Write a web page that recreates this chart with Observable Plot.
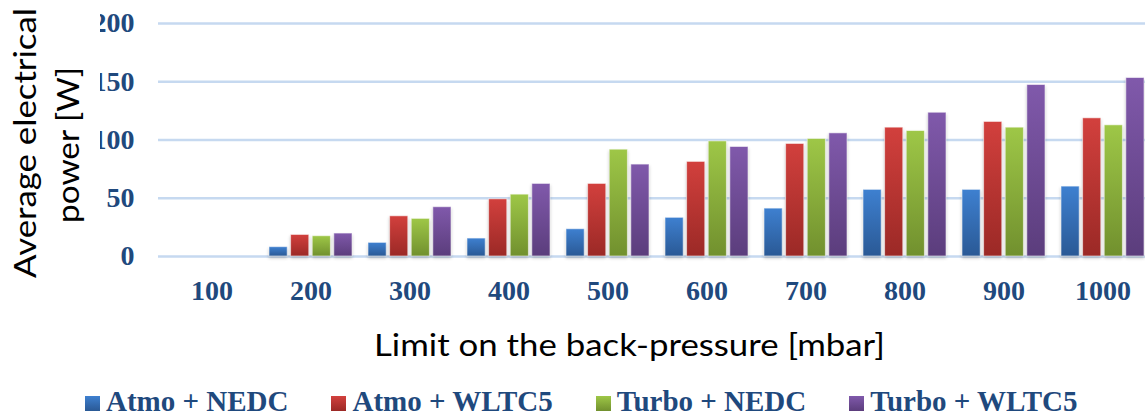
<!DOCTYPE html>
<html>
<head>
<meta charset="utf-8">
<script src="https://cdn.jsdelivr.net/npm/d3@7"></script>
<script src="https://cdn.jsdelivr.net/npm/@observablehq/plot@0.6"></script>
<style>
  html, body { margin: 0; padding: 0; background: #fff; overflow: hidden; }
  #wrap { position: relative; width: 1145px; height: 417px; overflow: hidden; background: #fff; }
  #chart { position: absolute; left: 0; top: 0; width: 1157px; }
  #chart svg { max-width: none !important; }
  #ytitle { position: absolute; left: 0; top: 0; }
  #xtitle { position: absolute; left: 0; top: 320px; }
  #legend { position: absolute; left: 85px; top: 387px; display: flex; gap: 43px;
    font-family: "Liberation Serif", "Times New Roman", serif; font-weight: bold;
    font-size: 29px; line-height: 29px; color: #1F497D; white-space: nowrap; }
  .item { display: flex; align-items: baseline; }
  .sw { display: inline-block; width: 15px; height: 15px; margin-right: 6px; }
</style>
</head>
<body>
<div id="wrap">
  <div id="chart"></div>
  <svg id="ytitle" width="100" height="290">
    <rect x="0" y="0" width="100" height="290" fill="#fff"></rect>
    <text transform="translate(36,143) rotate(-90)" text-anchor="middle" font-family="Lato, 'Open Sans', sans-serif" font-size="31" fill="#000" textLength="270" lengthAdjust="spacingAndGlyphs">Average electrical</text>
    <text transform="translate(79,145) rotate(-90)" text-anchor="middle" font-family="Lato, 'Open Sans', sans-serif" font-size="31" fill="#000" textLength="156" lengthAdjust="spacingAndGlyphs">power [W]</text>
  </svg>
  <svg id="xtitle" width="1145" height="60">
    <text x="629.5" y="36" text-anchor="middle" font-family="Lato, 'Open Sans', sans-serif" font-size="31" fill="#000" textLength="511" lengthAdjust="spacingAndGlyphs">Limit on the back-pressure [mbar]</text>
  </svg>
  <div id="legend"></div>
</div>
<script>
// ---- data ----
const categories = ["100", "200", "300", "400", "500", "600", "700", "800", "900", "1000"];
const series = ["Atmo + NEDC", "Atmo + WLTC5", "Turbo + NEDC", "Turbo + WLTC5"];
const atmoNedc   = [0, 8.0, 11.7, 15.4, 23.4, 33.2, 41.1, 57.2, 57.2, 60.0];
const atmoWltc5  = [0, 18.5, 34.5, 49.1, 62.3, 81.2, 96.6, 110.6, 115.5, 118.6];
const turboNedc  = [0, 17.4, 32.3, 53.1, 91.7, 98.8, 100.9, 107.7, 110.6, 112.6];
const turboWltc5 = [0, 19.7, 42.3, 62.3, 78.9, 94.0, 105.7, 123.4, 147.2, 153.2];
const yTicks = [0, 50, 100, 150, 200];

// ---- styles ----
const topColors = ["#3E80D0", "#D2403D", "#9EC747", "#8059AB"];
const bottomColors = ["#2A5995", "#9B2926", "#71902E", "#5B3D7C"];

const values = [atmoNedc, atmoWltc5, turboNedc, turboWltc5];
const rows = series.flatMap((s, i) => categories.map((c, j) => ({category: c, series: s, value: values[i][j]})));

const W = 1157, H = 310, mL = 158, mR = 1;
const padIn = 0.16, padOut = 0.08;
const step = (W - mR - mL) / (categories.length - padIn + 2 * padOut);
const bw = step * (1 - padIn);
const sub = d3.scaleBand().domain(series).range([0, bw]).paddingInner(0.12);

const svg = Plot.plot({
  width: W, height: H,
  marginTop: 23, marginBottom: 54, marginLeft: mL, marginRight: mR,
  style: {fontFamily: "'Liberation Serif', 'Times New Roman', serif", fontSize: "28px", fontWeight: "bold", color: "#1F497D", background: "transparent", maxWidth: "none"},
  x: {domain: categories, paddingInner: padIn, paddingOuter: padOut, tickSize: 0, tickPadding: 24, label: null},
  y: {domain: [0, 200], ticks: yTicks, tickSize: 0, tickPadding: 24, label: null},
  marks: [
    Plot.ruleY(yTicks, {stroke: "#C6D9F0", strokeWidth: 2.5}),
    ...series.map((s, i) => Plot.barY(rows.filter(d => d.series === s && d.value > 0), {
      x: "category", y: "value", fill: topColors[i],
      insetLeft: sub(s), insetRight: bw - sub(s) - sub.bandwidth(),
      stroke: "#ffffff", strokeOpacity: 0.55, strokeWidth: 1
    }))
  ]
});
svg.style.maxWidth = "none";
svg.setAttribute("width", W);
svg.setAttribute("height", H);

// gradients
const sel = d3.select(svg);
const defs = sel.insert("defs", ":first-child");
series.forEach((s, i) => {
  const g = defs.append("linearGradient").attr("id", "g" + i)
    .attr("x1", 0).attr("y1", 0).attr("x2", 0).attr("y2", 1);
  g.append("stop").attr("offset", "0%").attr("stop-color", topColors[i]);
  g.append("stop").attr("offset", "100%").attr("stop-color", bottomColors[i]);
});
sel.selectAll('g[aria-label="bar"]').each(function(_, i) {
  this.setAttribute("fill", `url(#g${i})`);
  this.style.filter = "drop-shadow(0px 2px 1.5px rgba(0,0,0,0.22))";
});
document.getElementById("chart").appendChild(svg);

// legend
const leg = document.getElementById("legend");
series.forEach((s, i) => {
  const it = document.createElement("div");
  it.className = "item";
  const sw = document.createElement("span");
  sw.className = "sw";
  sw.style.background = `linear-gradient(${topColors[i]}, ${bottomColors[i]})`;
  const t = document.createElement("span");
  t.textContent = s;
  it.appendChild(sw); it.appendChild(t);
  leg.appendChild(it);
});
</script>
</body>
</html>
